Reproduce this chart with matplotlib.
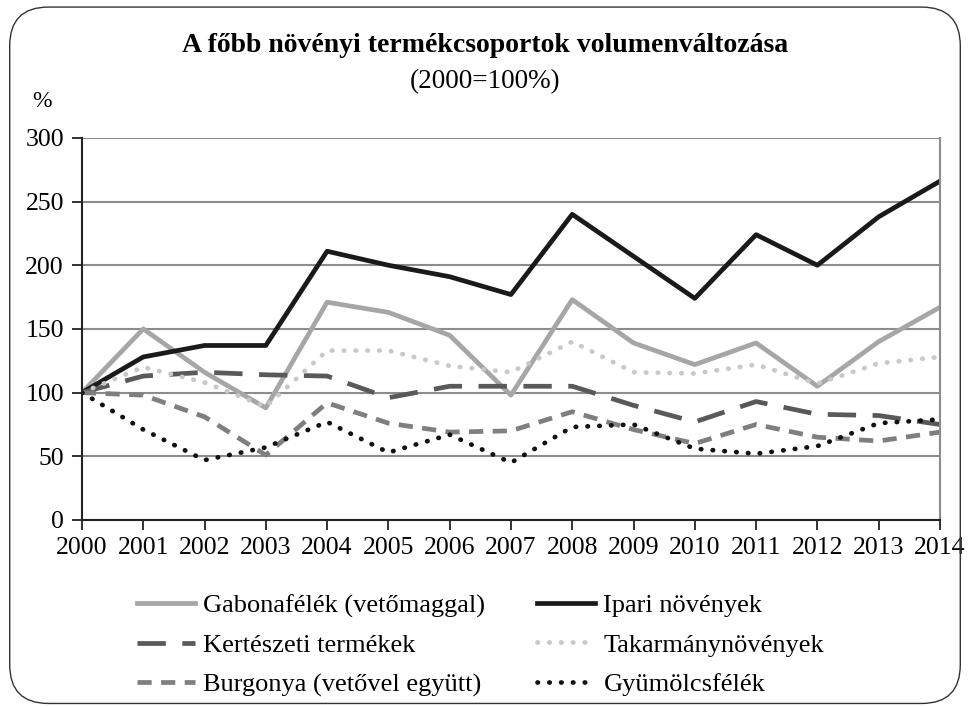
import matplotlib
matplotlib.use("Agg")
import matplotlib.pyplot as plt
from matplotlib.patches import FancyBboxPatch

years = list(range(2000, 2015))
gabona = [100, 150, 116, 88, 171, 163, 145, 98, 173, 139, 122, 139, 105, 140, 167]
ipari = [100, 128, 137, 137, 211, 200, 191, 177, 240, 207, 174, 224, 200, 238, 266]
kerteszeti = [100, 113, 116, 114, 113, 96, 105, 105, 105, 90, 77, 93, 83, 82, 75]
takarmany = [100, 120, 108, 89, 133, 133, 121, 116, 140, 116, 115, 122, 107, 123, 128]
burgonya = [100, 98, 81, 51, 92, 76, 69, 70, 85, 71, 60, 75, 65, 62, 69]
gyumolcs = [100, 71, 47, 57, 77, 53, 67, 45, 73, 75, 56, 52, 58, 76, 79]

labels = ["Gabonafélék (vetőmaggal)", "Ipari növények", "Kertészeti termékek",
          "Takarmánynövények", "Burgonya (vetővel együtt)", "Gyümölcsfélék"]
yticks = [0, 50, 100, 150, 200, 250, 300]

plt.rcParams['font.family'] = ['Liberation Serif', 'DejaVu Serif']

fig = plt.figure(figsize=(9.7, 7.07), dpi=100)
fig.patch.set_facecolor('white')
border = FancyBboxPatch((0.01, 0.005), 0.98, 0.985, boxstyle="round,pad=0,rounding_size=0.04",
                        transform=fig.transFigure, facecolor='none', edgecolor='#333333', lw=1.0,
                        mutation_aspect=970/707)
fig.patches.append(border)

ax = fig.add_axes([0.0845, 0.2645, 0.8845, 0.5405])
lw = 3.4
series = [
    (gabona, dict(color='#a6a6a6', ls='-', lw=lw)),
    (ipari, dict(color='#1a1a1a', ls='-', lw=lw)),
    (kerteszeti, dict(color='#595959', ls=(0, (6, 3.5)), lw=lw)),
    (takarmany, dict(color='#c8c8c8', ls=(0, (0.1, 2.4)), lw=lw, dash_capstyle='round')),
    (burgonya, dict(color='#7f7f7f', ls=(0, (3, 2)), lw=lw)),
    (gyumolcs, dict(color='#111111', ls=(0, (0.1, 2.4)), lw=lw, dash_capstyle='round')),
]
handles = []
for (vals, st), lab in zip(series, labels):
    h, = ax.plot(years, vals, label=lab, **st)
    handles.append(h)

ax.set_xlim(2000, 2014)
ax.set_ylim(0, 300)
ax.set_yticks(yticks)
ax.set_xticks(years)
ax.grid(axis='y', color='#8c8c8c', lw=1.5)
ax.set_axisbelow(True)
for s in ['left', 'bottom']:
    ax.spines[s].set_color('#222222')
    ax.spines[s].set_linewidth(1.5)
ax.spines['top'].set_visible(False)
ax.spines['right'].set_color('#8c8c8c')
ax.spines['right'].set_linewidth(1.5)
ax.tick_params(axis='both', labelsize=18.5, length=7, width=1.3, color='#222222')
ax.tick_params(axis='x', pad=5)
ax.tick_params(axis='y', pad=6)

fig.text(0.5, 0.935, "A főbb növényi termékcsoportok volumenváltozása", ha='center', va='center',
         fontsize=20, fontweight='bold')
fig.text(0.5, 0.885, "(2000=100%)", ha='center', va='center', fontsize=19.5)
fig.text(0.043, 0.857, "%", ha='center', va='center', fontsize=17)

order = [0, 2, 4, 1, 3, 5]
leg = fig.legend(handles=[handles[i] for i in order], labels=[labels[i] for i in order],
                 ncol=2, loc='upper left',
                 bbox_to_anchor=(0.13, 0.175), frameon=False, fontsize=19,
                 handlelength=2.2, handletextpad=0.3, columnspacing=2.0, labelspacing=0.6,
                 borderaxespad=0)
fig.savefig("out.png", dpi=100)
